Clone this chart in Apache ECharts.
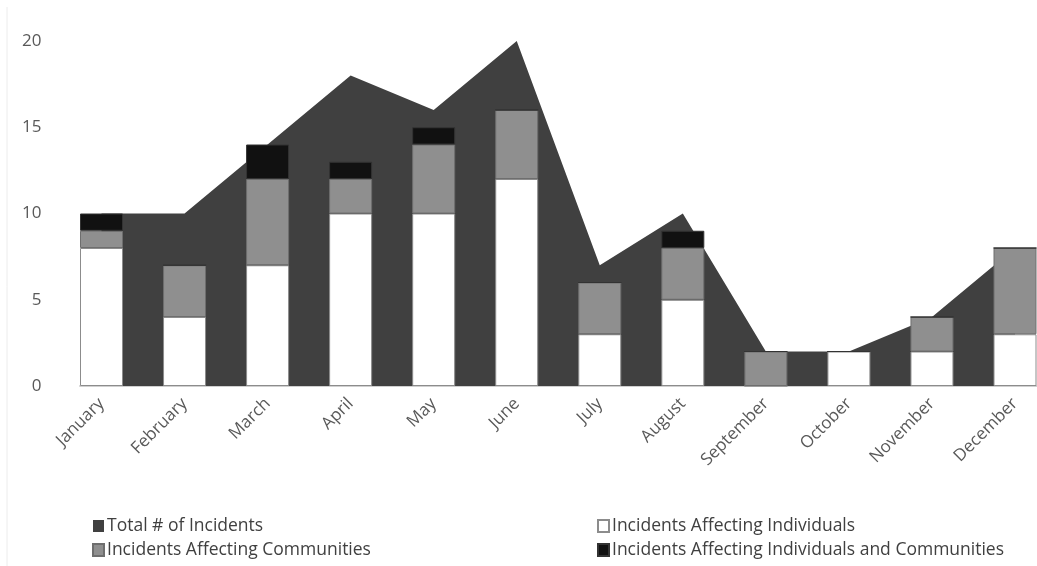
<!DOCTYPE html>
<html>
<head>
<meta charset="utf-8">
<script src="https://cdn.jsdelivr.net/npm/echarts@6/dist/echarts.min.js"></script>
<style>
  html, body { margin: 0; padding: 0; background: #fff; }
  #chart { width: 1037px; height: 566px; }
</style>
</head>
<body>
<div id="chart"></div>
<script>
// Monthly incident counts
const months = ['January', 'February', 'March', 'April', 'May', 'June',
  'July', 'August', 'September', 'October', 'November', 'December'];
const totalIncidents = [10, 10, 14, 18, 16, 20, 7, 10, 2, 2, 4, 8];
const individuals = [8, 4, 7, 10, 10, 12, 3, 5, 0, 2, 2, 3];
const communities = [1, 3, 5, 2, 4, 4, 3, 3, 2, 0, 2, 5];
const both = [1, 0, 2, 1, 1, 0, 0, 1, 0, 0, 0, 0];
const yTicks = { min: 0, max: 20, interval: 5 };

const FONT = '"Open Sans", sans-serif';
const chart = echarts.init(document.getElementById('chart'));

const barBase = { type: 'bar', stack: 'inc', barWidth: 43, clip: false, z: 3 };
const legendBase = {
  orient: 'vertical', top: 512, itemGap: 6, itemWidth: 11, itemHeight: 12,
  icon: 'rect',
  textStyle: { color: '#404040', fontSize: 17.5, fontFamily: FONT, padding: [0, 0, 0, -2] }
};

chart.setOption({
  animation: false,
  graphic: [{
    type: 'line', shape: { x1: 7, y1: 7, x2: 7, y2: 566 },
    style: { stroke: '#ececec', lineWidth: 1 }
  }],
  grid: [
    { left: 101.5, right: 22, top: 41, bottom: 180 },
    { left: 80, right: 0, top: 41, bottom: 180 }
  ],
  xAxis: [
    {
      type: 'category', gridIndex: 0, data: months, boundaryGap: false,
      axisLine: { show: false }, axisTick: { show: false },
      axisLabel: { rotate: 45, margin: 15, color: '#595959', fontSize: 17, fontFamily: FONT }
    },
    {
      type: 'value', gridIndex: 1, min: 0, max: 1,
      axisLine: { show: true, lineStyle: { color: '#d0d0d0', width: 2 } },
      axisTick: { show: false }, axisLabel: { show: false }, splitLine: { show: false }
    }
  ],
  yAxis: [
    {
      type: 'value', gridIndex: 0, min: yTicks.min, max: yTicks.max, interval: yTicks.interval,
      axisLine: { show: false }, axisTick: { show: false }, splitLine: { show: false },
      axisLabel: { margin: 60, color: '#595959', fontSize: 17, fontFamily: FONT }
    },
    { type: 'value', gridIndex: 1, show: false, min: 0, max: 1 }
  ],
  legend: [
    Object.assign({}, legendBase, {
      left: 87, data: ['Total # of Incidents', 'Incidents Affecting Communities']
    }),
    Object.assign({}, legendBase, {
      left: 592, data: ['Incidents Affecting Individuals', 'Incidents Affecting Individuals and Communities']
    })
  ],
  series: [
    {
      name: 'Total # of Incidents', type: 'line', data: totalIncidents,
      symbol: 'none', lineStyle: { width: 0 }, z: 1,
      itemStyle: { color: '#404040' },
      areaStyle: { color: '#404040', opacity: 1 }
    },
    Object.assign({}, barBase, {
      name: 'Incidents Affecting Individuals', data: individuals,
      itemStyle: { color: '#ffffff', borderColor: '#8c8c8c', borderWidth: 1 }
    }),
    Object.assign({}, barBase, {
      name: 'Incidents Affecting Communities', data: communities,
      itemStyle: { color: '#8f8f8f', borderColor: '#6e6e6e', borderWidth: 1 }
    }),
    Object.assign({}, barBase, {
      name: 'Incidents Affecting Individuals and Communities', data: both,
      itemStyle: { color: '#111111', borderColor: '#333333', borderWidth: 1 }
    })
  ]
});
</script>
</body>
</html>
